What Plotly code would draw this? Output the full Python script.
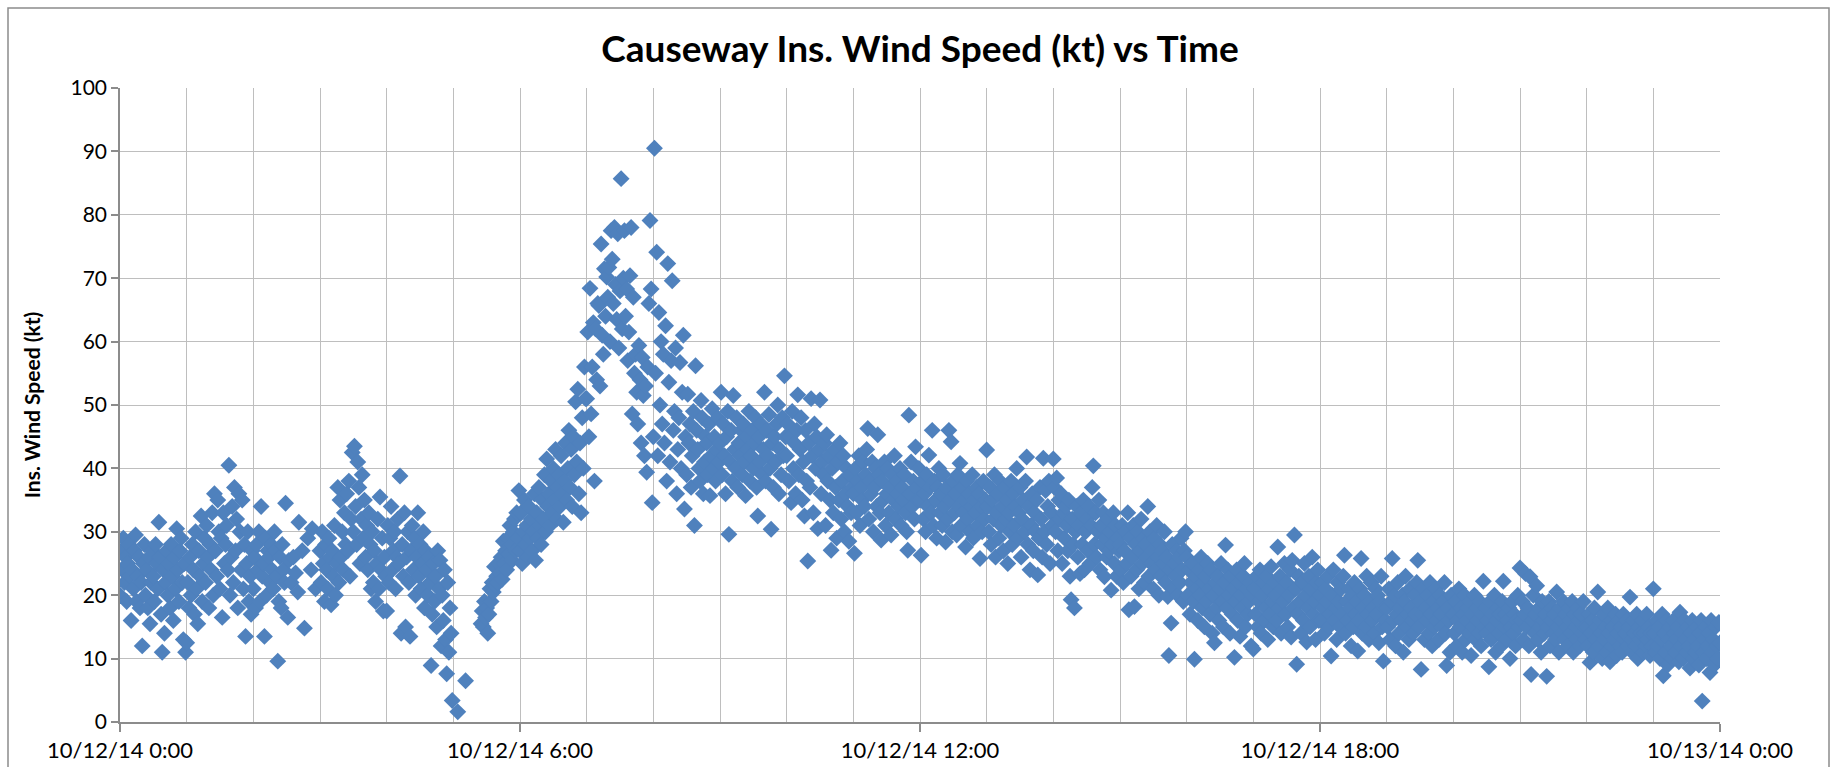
import datetime as dt
import plotly.graph_objects as go

N = None
TITLE = "Causeway Ins. Wind Speed (kt) vs Time"
Y_TITLE = "Ins. Wind Speed (kt)"
START = dt.datetime(2014, 10, 12, 0, 0)

# one reading per minute, hour by hour (kt); None = no reading
h00 = [20, 27, 24, 29, 22, 26, 19, 25, 28, 23,
       16, 24, 21, 27, 29.5, 19, 23, 26, 18, 22,
       12, 25, 28, 20, 24, 18, 26, 15.5, 22, 27,
       23, 19, 28, 25, 21, 31.5, 26, 17, 11, 24,
       14, 22, 27, 20, 25, 18, 28, 23, 16, 26,
       21, 30.5, 24, 19, 27, 29, 22, 13, 25, 11]
h01 = [12.5, 22, 18, 26, 20, 28, 24, 17, 30, 21,
       15.5, 27, 23, 32.5, 19, 25, 29, 22, 31, 26,
       18, 28, 24, 33, 20, 36, 27, 23, 35, 30,
       21, 29, 16.5, 33, 25, 28, 31, 24, 40.5, 20,
       26, 34, 22, 37, 27, 32, 18, 36, 30, 24,
       35, 21, 28, 13.5, 25, 30, 19, 23, 17, 27]
h02 = [21, 26, 18, 28, 24, 30, 19, 34, 23, 25,
       13.5, 29, 20, 27, 26, 22, 28, 24, 21, 30,
       27, 23, 9.6, 19, 26, 18, 28, 24, 22, 34.5,
       N, 16.5, 25.5, N, 22, N, 26, N, 23.5, N,
       20.5, 31.5, N, N, 27, N, 14.8, N, N, 29,
       N, N, 24, 30.5, N, N, 21, N, N, N]
h03 = [27, 22, 30, 25, 19, 28, 24, 21, 29, 26,
       18.5, 27, 23, 31, 20, 25, 37, 22, 35, 26,
       30, 24, 33, 28, 36, 27, 38, 23, 32, 42.5,
       30, 43.5, 34, 28, 41, 37, 25, 32, 39, 29,
       35, 26, 31, 24, 33, 28, 21, 30, 22, 27,
       19, 25, 32, 21, 35.5, 24, 29, 17.5, 26, 23]
h04 = [17.5, 31, 22, 29, 34, 24, 27, 30, 21, 26,
       32, 25, 38.8, 14, 28, 23, 33, 15, 26, 30,
       22, 13.5, 27, 31, 24, 29, 20, 26, 33, 23,
       28, 21, 25, 30, 18, 27, 24, 20, 26, 22,
       8.9, 17, 25, 19, 23, 15, 27, 21, 25.5, 12,
       20, 16, 24, 13, 7.6, 22, 11, 18, 14, 3.4]
h05 = [N, N, N, N, 1.6, N, N, N, N, N,
       N, 6.5, N, N, N, N, N, N, N, N,
       N, N, N, N, N, 15.5, 17.5, 15, 19, 16.5,
       18, 14, 17, 21, 19, 22, 20.5, 24.5, 21.5, 23,
       22, 25, 23.5, 26, 22.5, 28.5, 25, 27, 24, 29,
       26.5, 31, 28, 25.5, 30, 32, 27, 33, 29, 36.5]
h06 = [27, 33, 25, 30, 35, 28, 31, 26, 34, 29,
       32, 27, 30, 36, 25.5, 33, 29, 37, 31, 28,
       35, 32, 39, 30, 41.5, 34, 36, 31, 38, 33,
       40, 35, 43, 32, 37, 39, 34, 42, 36, 31.5,
       38, 44, 35, 40, 46, 37, 43, 34, 45, 39,
       50.5, 41, 52.5, 36, 44, 33, 48, 40, 56, 51]
h07 = [51, 61.5, 45, 68.4, 48.6, 56, 63, 38, 62, 54,
       66, 65.7, 53, 75.4, 61, 58, 71.5, 64, 70.2, 67,
       71.7, 60, 77.5, 73, 66, 78, 69, 63.5, 77, 59,
       68, 85.7, 62, 70, 77.5, 64, 68.3, 57, 61.5, 70.4,
       78, 48.6, 67, 55, 58, 52, 47, 59.4, 54, 44,
       57.5, 51.5, 42, 53, 39.4, 56, 66, 79.1, 68.3, 34.6]
h08 = [45, 90.5, 55, 74.1, 42, 64.6, 50, 60, 47, 58,
       44, 62.5, 38, 72.3, 53.6, 41, 57, 69.6, 46, 49,
       59, 36, 43, 48, 56.7, 40, 52, 61, 33.6, 45,
       39, 51.7, 44, 47, 37, 42, 49, 31, 56.2, 46,
       43, 40, 38, 50.7, 48, 36, 41, 45, 44, 39,
       47, 35.7, 42, 49.4, 40, 45, 38, 43, 48, 41]
h09 = [44, 52, 39, 47, 42, 36, 45, 49, 29.6, 41,
       46, 38, 51.5, 43, 40, 48, 37, 44, 42, 46,
       39, 47, 41, 35.7, 45, 43, 49, 38, 42, 46,
       40, 44, 48, 37, 32.5, 45, 41, 47, 39, 43,
       52, 38, 46, 42, 48.5, 40, 30.4, 44, 37, 45,
       41, 47, 50, 36, 43, 39, 48, 42, 54.6, 45]
h10 = [42, 47, 38, 45, 34.6, 49, 40, 44, 36, 46,
       51.6, 39, 43, 48, 35, 41, 32.5, 46, 38, 25.4,
       44, 37, 51, 42, 33, 47, 40, 45, 30.5, 43,
       50.8, 36, 41, 39, 44, 31, 45.3, 38, 42, 35,
       27.1, 40, 33, 43, 37, 29, 41, 35, 44, 32,
       38, 42, 30, 36, 40, 34, 28.5, 39, 33, 37]
h11 = [36, 26.6, 40, 33, 38, 42, 31, 37, 35, 41,
       34, 39, 43, 46.3, 32, 38, 36, 41, 30, 37,
       40, 34, 45.3, 39, 33, 28.7, 38, 35, 41, 31,
       36, 40, 33, 37, 29.5, 39, 35, 42, 32, 38,
       36, 34, 40, 31, 37, 35, 39, 33, 30, 27.1,
       48.4, 36, 41, 34, 38, 32, 43.4, 37, 35, 40]
h12 = [35, 26.3, 38, 32, 36, 30, 39, 34, 42.1, 37,
       33, 46, 31, 38, 35, 29, 37, 40, 33, 36,
       31, 39, 34, 28.4, 37, 32, 46, 35, 44.2, 30,
       38, 33, 36, 29.5, 39, 34, 40.8, 31, 37, 33,
       35, 27.6, 38, 32, 36, 30, 34, 39, 29, 35,
       33, 37, 31, 36, 25.8, 34, 30, 38, 32, 35]
h13 = [42.9, 34, 30, 37, 28, 35, 32, 39, 26, 33,
       36, 29, 38, 31, 34, 27, 37, 32, 35, 25,
       33, 30, 38, 28, 36, 31, 34, 40, 29, 33,
       37, 26, 32, 35, 30, 38, 41.8, 28, 34, 24,
       31, 36, 27, 33, 30, 35, 23.2, 29, 37, 32,
       26, 41.6, 30, 36.5, 28, 34, 38, 25, 33, 31]
h14 = [41.5, 37, 30, 38.5, 27, 35, 32, 36, 25, 33,
       29, 34, 31, 27, 35, 23, 19.3, 32, 28, 18,
       30, 34, 26, 31, 23.4, 33, 28, 35, 24, 30,
       32, 27, 34, 25, 31, 37, 40.4, 28, 33, 26,
       30, 35, 24, 31, 28, 33, 22.9, 29, 26, 32,
       27, 30, 20.8, 28, 33, 25, 31, 23, 29, 27]
h15 = [28, 24, 31, 22, 27, 30, 25, 33, 17.7, 29,
       23, 26, 31, 18.2, 28, 24, 30, 21, 27, 32,
       25, 29, 22, 28, 26, 34, 23, 30, 25, 27,
       21, 29, 24, 31, 26, 20, 28, 23, 27, 25,
       30, 22, 26, 19.8, 10.5, 24, 15.6, 28, 21, 25,
       23, 27, 20, 26, 22, 29, 24, 19, 27, 30]
h16 = [26, 20, 24, 17, 22, 25, 19, 9.9, 23, 21,
       16, 24, 20, 26, 18, 22, 15, 23, 19, 25,
       21, 17, 24, 14, 20, 12.5, 22, 18, 23, 16,
       21, 25, 19, 15, 22, 27.9, 18, 24, 20, 14,
       23, 17, 21, 10.2, 19, 24, 16, 22, 13.5, 20,
       18, 23, 25, 15, 21, 17, 19, 22, 12, 20]
h17 = [11.5, 21, 17, 23, 15, 19, 24, 14, 20, 22,
       16, 18, 23, 13, 21, 17, 24.5, 19, 15, 22,
       20, 16, 27.6, 18, 23, 14, 21, 19, 25, 17,
       22, 15, 20, 24, 13.4, 25.5, 18, 29.5, 21, 9.1,
       17, 23, 19, 14, 22, 16, 25, 20, 12.6, 18,
       23, 15, 21, 26, 17, 19, 13, 22, 24, 16]
h18 = [20, 16, 22, 18, 14, 21, 19, 23, 15, 17,
       10.4, 20, 24, 16, 18, 13, 22, 19, 15, 21,
       17, 23, 26.3, 14, 19, 16, 21, 18, 12, 20,
       15, 22, 17, 19, 11.2, 16, 21, 25.8, 14, 18,
       20, 15, 23, 17, 13, 19, 22, 16, 18, 14,
       21, 17, 20, 12.5, 19, 23, 15, 9.6, 18, 16]
h19 = [18, 15, 21, 13, 19, 25.8, 16, 20, 12, 17,
       22, 14, 18, 16, 20, 11, 19, 23, 15, 17,
       13, 21, 18, 16, 14, 20, 17, 22, 25.5, 15,
       19, 8.3, 17, 21, 13, 18, 16, 20, 14, 22,
       17, 12, 19, 15, 21, 16, 18, 13, 20, 17,
       15, 19, 22, 14, 8.9, 18, 16, 11, 20, 17]
h20 = [17, 14, 19, 12, 16, 21, 15, 18, 11, 17,
       20, 13, 16, 18, 14, 19, 10.5, 17, 15, 20,
       13, 18, 16, 14, 19, 12, 17, 22.2, 15, 18,
       14, 16, 8.7, 19, 13, 17, 15, 20, 11, 16,
       18, 14, 17, 12, 19, 22.2, 15, 17, 13, 16,
       18, 10, 15, 19, 14, 17, 12, 16, 20, 15]
h21 = [24.3, 16, 19, 13, 17, 23.4, 15, 18, 12, 22.9,
       7.5, 16, 20, 14, 17, 21.5, 13, 18, 15, 11,
       19, 16, 14, 17, 7.2, 15, 19, 12, 16, 18,
       14, 17, 13, 20.5, 15, 11, 18, 16, 14, 19,
       13, 17, 15, 12, 18, 16, 14, 19, 11, 17,
       15, 13, 18, 16, 12, 17, 14, 19, 15, 13]
h22 = [15, 12, 17, 9.4, 14, 16, 11, 18, 13, 15,
       20.5, 12, 16, 14, 10, 17, 13, 15, 11, 18,
       14, 9.5, 16, 12, 15, 13, 17, 10.5, 14, 16,
       12, 15, 11, 17, 13, 14, 16, 12, 15, 19.7,
       13, 11, 16, 14, 12, 17, 10, 15, 13, 14,
       16, 11, 14, 12, 17, 13, 15, 10.5, 14, 12]
h23 = [21, 14, 11, 16, 12, 15, 10, 13, 17, 7.3,
       14, 11, 16, 9, 13, 15, 12, 10, 16, 14,
       11, 13, 15, 9.5, 17.3, 12, 14, 10, 16, 13,
       11, 15, 12, 8.5, 14, 16, 10, 13, 11, 15,
       12, 9, 14, 16, 3.3, 11, 13, 15, 10, 12,
       14, 7.8, 16, 11, 13, 9, 15, 12, 10, 15.7]
h24 = [12.5]

hours = [h00, h01, h02, h03, h04, h05, h06, h07, h08, h09, h10, h11,
         h12, h13, h14, h15, h16, h17, h18, h19, h20, h21, h22, h23, h24]

times, speeds = [], []
for hr, vals in enumerate(hours):
    for m, v in enumerate(vals):
        if v is None:
            continue
        times.append(START + dt.timedelta(hours=hr, minutes=m))
        speeds.append(v)

FONT = "Lato, 'Liberation Sans', Arial, sans-serif"
GRID = "#BEBEBE"
AXIS = "#8C8C8C"

fig = go.Figure(go.Scatter(
    x=times, y=speeds, mode="markers",
    marker=dict(symbol="diamond", size=13, color="#4F81BD", line=dict(width=0)),
    hoverinfo="x+y", showlegend=False,
))

L, R, T, B = 120, 115, 88, 45
W, H = 1835, 767
pw, ph = W - L - R, H - T - B

fig.update_layout(
    width=W, height=H,
    margin=dict(l=L, r=R, t=T, b=B),
    paper_bgcolor="white", plot_bgcolor="white",
    font=dict(family=FONT, size=21, color="#000000"),
    title=dict(text=TITLE, x=(L + pw / 2) / W, xanchor="center",
               y=1 - 49 / H, yanchor="middle",
               font=dict(family=FONT, size=37, color="#000000", weight="bold")),
    xaxis=dict(
        type="date", automargin=False,
        range=[START, START + dt.timedelta(hours=24)],
        tick0=START, dtick=6 * 3600000,
        tickformat="%m/%d/%y %-H:%M",
        showgrid=True, gridcolor=GRID, gridwidth=1.3,
        minor=dict(dtick=3600000, tick0=START, showgrid=True, gridcolor=GRID, gridwidth=1.3),
        showline=True, linecolor=AXIS, linewidth=1.5,
        ticks="outside", ticklen=8, tickcolor=AXIS, tickwidth=1.5,
        zeroline=False, tickfont=dict(size=22),
    ),
    yaxis=dict(
        range=[0, 100], dtick=10, tick0=0, automargin=False,
        showgrid=True, gridcolor=GRID, gridwidth=1.3,
        showline=True, linecolor=AXIS, linewidth=1.5,
        ticks="outside", ticklen=7, tickcolor=AXIS, tickwidth=1.5,
        zeroline=False, tickfont=dict(size=21),
        title=dict(text=Y_TITLE, standoff=24,
                   font=dict(size=21, weight="bold")),
    ),
    shapes=[dict(type="rect", xref="paper", yref="paper",
                 x0=(8 - L) / pw, x1=(1829 - L) / pw,
                 y0=-(H - T - 8) / ph - 0.1, y1=1 + (T - 8) / ph,
                 line=dict(color="#8C8C8C", width=1.5), fillcolor="rgba(0,0,0,0)",
                 layer="below")],
)

fig.write_html("out.html", config={"displayModeBar": False},
               post_script="document.body.style.margin='0';document.body.style.overflow='hidden';")
